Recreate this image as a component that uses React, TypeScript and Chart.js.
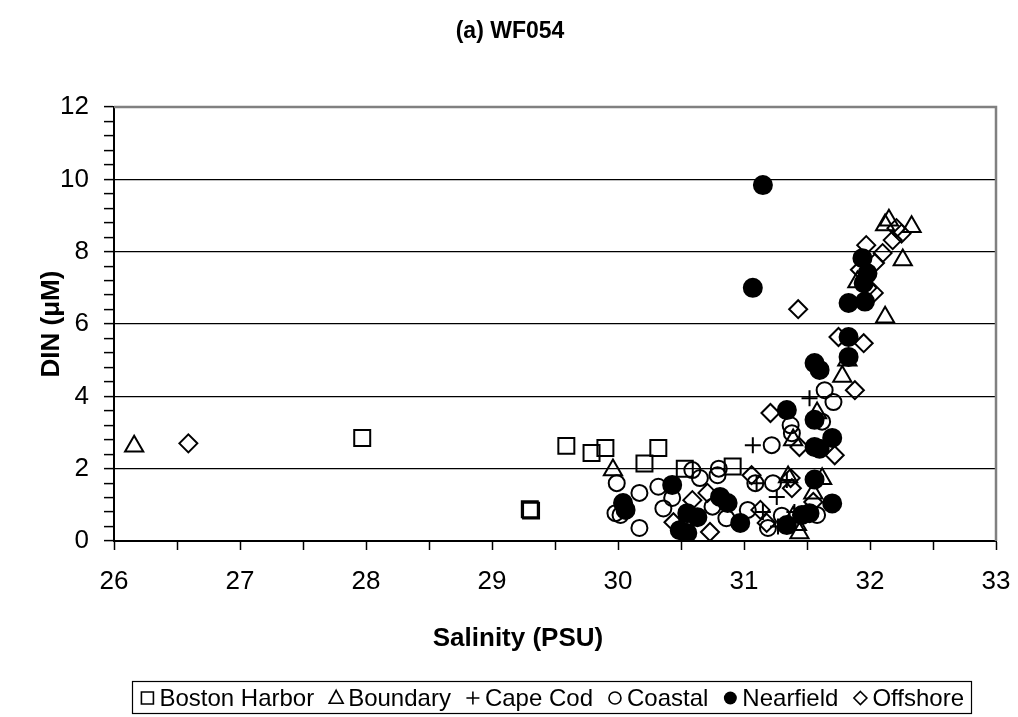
import React, { useEffect, useRef } from "react";
import { Chart, registerables } from "chart.js";

Chart.register(...registerables);

// Salinity (PSU) vs DIN (µM), survey WF054, by station group
const bostonHarbor: [number, number][] = [
  [27.97, 2.85], [29.3, 0.88], [29.31, 0.84], [29.59, 2.63], [29.79, 2.43],
  [29.9, 2.57], [30.21, 2.14], [30.32, 2.57], [30.53, 2.0], [30.91, 2.06],
];
const boundary: [number, number][] = [
  [26.16, 2.62], [29.96, 1.96], [31.39, 2.79], [31.35, 1.77], [31.55, 1.32],
  [31.39, 0.66], [31.44, 0.22], [31.62, 1.72], [31.58, 3.54], [31.78, 4.55],
  [31.82, 5.0], [31.9, 7.16], [32.15, 8.87], [32.12, 8.74], [32.33, 8.69],
  [32.26, 7.77], [32.12, 6.19], [31.42, 0.45],
];
const capeCod: [number, number][] = [
  [31.07, 2.65], [31.52, 3.95], [31.26, 1.22], [31.1, 1.6], [31.34, 1.69],
  [31.27, 0.4], [31.15, 0.8], [31.6, 4.75], [31.4, 0.8],
];
const coastal: [number, number][] = [
  [29.99, 1.6], [29.98, 0.77], [30.02, 0.72], [30.17, 1.33], [30.17, 0.36],
  [30.32, 1.5], [30.36, 0.9], [30.43, 1.19], [30.59, 1.96], [30.65, 1.74],
  [30.79, 1.82], [30.8, 2.0], [30.86, 0.63], [31.03, 0.86], [31.09, 1.6],
  [31.22, 2.65], [31.23, 1.6], [31.37, 3.2], [31.38, 2.98], [31.19, 0.36],
  [31.58, 0.72], [31.64, 4.17], [31.71, 3.84], [30.55, 0.55], [30.75, 0.95],
  [31.3, 0.7], [31.62, 3.3],
];
const nearfield: [number, number][] = [
  [31.15, 9.84], [31.07, 7.0], [31.94, 7.82], [31.98, 7.4], [31.95, 7.13],
  [31.83, 6.58], [31.96, 6.62], [31.83, 5.64], [31.83, 5.09], [31.56, 4.92],
  [31.6, 4.73], [31.34, 3.62], [31.56, 3.35], [31.56, 2.6], [31.56, 1.7],
  [30.43, 1.55], [30.04, 1.05], [30.06, 0.86], [30.55, 0.77], [30.63, 0.66],
  [30.49, 0.3], [30.55, 0.22], [30.81, 1.22], [30.87, 1.05], [30.97, 0.5],
  [31.34, 0.44], [31.46, 0.72], [31.52, 0.77], [31.7, 2.85], [31.7, 1.04],
  [31.6, 2.55],
];
const offshore: [number, number][] = [
  [26.59, 2.7], [31.43, 6.41], [31.97, 8.18], [32.21, 8.65], [32.18, 8.32],
  [32.1, 7.96], [32.04, 7.69], [32.03, 6.86], [31.75, 5.64], [31.95, 5.47],
  [31.88, 4.17], [31.21, 3.54], [31.44, 2.6], [31.06, 1.82], [30.59, 1.13],
  [30.44, 0.52], [30.71, 1.33], [30.73, 0.25], [31.13, 0.86], [31.18, 0.5],
  [31.37, 1.74], [31.38, 1.46], [31.55, 1.08], [31.72, 2.37], [32.25, 8.5],
  [31.92, 7.5], [31.98, 7.0],
];

const seriesNames = ["Boston Harbor", "Boundary", "Cape Cod", "Coastal", "Nearfield", "Offshore"];

// axis ticks: majors carry labels, minors only get tick marks
const xTicks = [26, 26.5, 27, 27.5, 28, 28.5, 29, 29.5, 30, 30.5, 31, 31.5, 32, 32.5, 33];
const xLabels = [26, 27, 28, 29, 30, 31, 32, 33];
const yTicks = [
  0, 0.4, 0.8, 1.2, 1.6, 2, 2.4, 2.8, 3.2, 3.6, 4, 4.4, 4.8, 5.2, 5.6, 6,
  6.4, 6.8, 7.2, 7.6, 8, 8.4, 8.8, 9.2, 9.6, 10, 10.4, 10.8, 11.2, 11.6, 12,
];
const yLabels = [0, 2, 4, 6, 8, 10, 12];

const FONT = "'Liberation Sans', Arial, sans-serif";
const isIn = (list: number[], v: number) => list.some((t) => Math.abs(t - v) < 1e-6);

type Marker = "rect" | "triangle" | "cross" | "circle" | "dot" | "diamond";
const markers: Marker[] = ["rect", "triangle", "cross", "circle", "dot", "diamond"];

function drawMarker(ctx: CanvasRenderingContext2D, m: Marker, x: number, y: number, r: number) {
  ctx.beginPath();
  if (m === "rect") {
    ctx.rect(x - r, y - r, 2 * r, 2 * r);
    ctx.stroke();
  } else if (m === "triangle") {
    ctx.moveTo(x, y - r * 1.1);
    ctx.lineTo(x + r, y + r * 0.75);
    ctx.lineTo(x - r, y + r * 0.75);
    ctx.closePath();
    ctx.stroke();
  } else if (m === "cross") {
    ctx.moveTo(x - r, y);
    ctx.lineTo(x + r, y);
    ctx.moveTo(x, y - r);
    ctx.lineTo(x, y + r);
    ctx.stroke();
  } else if (m === "circle") {
    ctx.arc(x, y, r, 0, Math.PI * 2);
    ctx.stroke();
  } else if (m === "dot") {
    ctx.arc(x, y, r, 0, Math.PI * 2);
    ctx.fill();
  } else {
    ctx.moveTo(x, y - r);
    ctx.lineTo(x + r, y);
    ctx.lineTo(x, y + r);
    ctx.lineTo(x - r, y);
    ctx.closePath();
    ctx.stroke();
  }
}

// Titles, plot frame and the boxed legend row
const decorations = {
  id: "decorations",
  afterDraw(chart: Chart) {
    const { ctx, chartArea } = chart;
    ctx.save();
    // grey frame on top and right of the plot area
    ctx.strokeStyle = "#808080";
    ctx.lineWidth = 2.5;
    ctx.beginPath();
    ctx.moveTo(chartArea.left, chartArea.top);
    ctx.lineTo(chartArea.right, chartArea.top);
    ctx.lineTo(chartArea.right, chartArea.bottom);
    ctx.stroke();

    ctx.fillStyle = "#000";
    ctx.textAlign = "center";
    ctx.textBaseline = "middle";
    ctx.font = `bold 23px ${FONT}`;
    ctx.fillText("(a) WF054", 510, 32);

    ctx.font = `bold 26px ${FONT}`;
    ctx.textBaseline = "alphabetic";
    ctx.fillText("Salinity (PSU)", 518, 646);

    ctx.save();
    ctx.translate(52, (chartArea.top + chartArea.bottom) / 2);
    ctx.rotate(-Math.PI / 2);
    ctx.textBaseline = "middle";
    ctx.fillText("DIN (\u03bcM)", 0, 0);
    ctx.restore();

    // legend
    ctx.font = `24px ${FONT}`;
    const markW = 16, gapText = 4, gapItem = 14, pad = 7;
    const widths = seriesNames.map((n) => ctx.measureText(n).width);
    const total = widths.reduce((a, w) => a + markW + gapText + w, 0) + gapItem * (seriesNames.length - 1) + pad * 2;
    const right = 971;
    const top = 681, h = 32;
    const left = right - total;
    ctx.strokeStyle = "#000";
    ctx.lineWidth = 1.2;
    ctx.strokeRect(Math.round(left) + 0.5, top + 0.5, Math.round(total), h);
    let x = left + pad;
    const my = top + h / 2 + 1;
    ctx.textAlign = "left";
    ctx.textBaseline = "middle";
    ctx.lineWidth = 1.6;
    seriesNames.forEach((n, i) => {
      const m = markers[i];
      const r = m === "rect" ? 6 : m === "triangle" ? 7 : m === "dot" ? 6.5 : m === "circle" ? 6 : 6.5;
      drawMarker(ctx, m, x + markW / 2, my, r);
      x += markW + gapText;
      ctx.fillText(n, x, my + 1);
      x += widths[i] + gapItem;
    });
    ctx.restore();
  },
};

const toPts = (arr: [number, number][]) => arr.map(([x, y]) => ({ x, y }));

export default function App() {
  const ref = useRef<HTMLCanvasElement | null>(null);

  useEffect(() => {
    if (!ref.current) return;
    const open = "rgba(0,0,0,0)";
    const base = { borderColor: "#000", pointBorderWidth: 2, showLine: false };
    const chart = new Chart(ref.current, {
      type: "scatter",
      data: {
        datasets: [
          { ...base, label: seriesNames[0], data: toPts(bostonHarbor), pointStyle: "rect", pointRadius: 11.3, backgroundColor: open, order: 5 },
          { ...base, label: seriesNames[1], data: toPts(boundary), pointStyle: "triangle", pointRadius: 10.5, backgroundColor: open, order: 4 },
          { ...base, label: seriesNames[2], data: toPts(capeCod), pointStyle: "cross", pointRadius: 8, backgroundColor: open, order: 3 },
          { ...base, label: seriesNames[3], data: toPts(coastal), pointStyle: "circle", pointRadius: 8, backgroundColor: open, order: 2 },
          { ...base, label: seriesNames[4], data: toPts(nearfield), pointStyle: "circle", pointRadius: 9, backgroundColor: "#000", order: 1 },
          { ...base, label: seriesNames[5], data: toPts(offshore), pointStyle: "rectRot", pointRadius: 9, backgroundColor: open, order: 0 },
        ],
      },
      options: {
        responsive: false,
        animation: false,
        devicePixelRatio: 1,
        layout: { padding: { left: 0, right: 22, top: 107, bottom: 0 } },
        plugins: { legend: { display: false }, title: { display: false }, tooltip: { enabled: false } },
        scales: {
          x: {
            type: "linear",
            min: 26,
            max: 33,
            afterFit: (s: any) => {
              s.height = 717 - 541;
              s.paddingLeft = 0;
              s.paddingRight = 0;
            },
            afterBuildTicks: (s: any) => { s.ticks = xTicks.map((v) => ({ value: v })); },
            ticks: {
              autoSkip: false,
              maxRotation: 0,
              padding: 16,
              color: "#000",
              font: { family: FONT, size: 26 },
              callback: (v: any) => (isIn(xLabels, Number(v)) ? String(v) : ""),
            },
            grid: { color: "rgba(0,0,0,0)", tickColor: "#000", tickLength: 9, tickWidth: 1.5 },
            border: { color: "#000", width: 2 },
          },
          y: {
            type: "linear",
            min: 0,
            max: 12,
            afterFit: (s: any) => {
              s.width = 114;
              s.paddingTop = 0;
              s.paddingBottom = 0;
            },
            afterBuildTicks: (s: any) => { s.ticks = yTicks.map((v) => ({ value: v })); },
            ticks: {
              autoSkip: false,
              padding: 15,
              color: "#000",
              font: { family: FONT, size: 26 },
              callback: (v: any) => (isIn(yLabels, Number(v)) ? String(v) : ""),
            },
            grid: {
              color: (c: any) => {
                const v = c.tick ? c.tick.value : -1;
                return isIn(yLabels, v) && v > 0 && v < 12 ? "#000" : "rgba(0,0,0,0)";
              },
              lineWidth: 1.2,
              tickColor: "#000",
              tickLength: 10,
              tickWidth: 1.5,
            },
            border: { color: "#000", width: 2 },
          },
        },
      },
      plugins: [decorations],
    });
    return () => chart.destroy();
  }, []);

  return (
    <div style={{ position: "fixed", left: 0, top: 0, width: 1018, height: 717, background: "#fff" }}>
      <canvas ref={ref} width={1018} height={717} style={{ width: 1018, height: 717 }} />
    </div>
  );
}
